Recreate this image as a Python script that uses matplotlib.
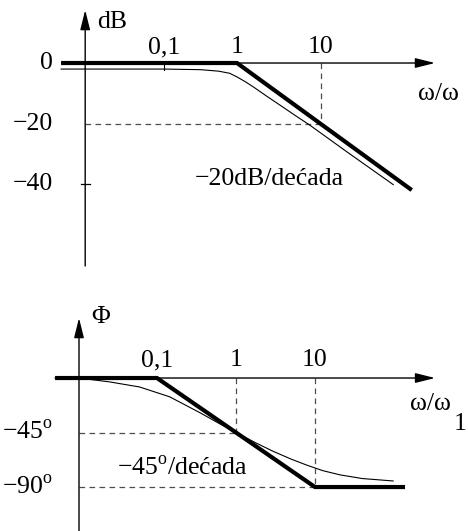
import numpy as np
import matplotlib
matplotlib.use("Agg")
import matplotlib.pyplot as plt

plt.rcParams['font.family'] = ['Liberation Serif', 'DejaVu Serif']
plt.rcParams['mathtext.fontset'] = 'custom'
plt.rcParams['mathtext.rm'] = 'Liberation Serif'

# x values are decades of w/w1 (log10)
# magnitude (dB)
mag_asym_x = [-2.41, 0.0, 2.08]
mag_asym_db = [0, 0, -42]
mag_real_x = [-2.41, -1.0, -0.5, -0.25, -0.1, 0.0, 0.1, 0.2, 0.35, 0.5, 0.68, 0.87, 1.3, 1.86]
mag_real_db = [-2.0, -2.0, -2.2, -2.7, -3.4, -4.6, -6.2, -8.0, -10.9, -13.7, -17.1, -20.6, -29.2, -40.2]
mag_xticks = [-1, 0, 1]
mag_yticks = [0, -20, -40]
mag_ylabels = ['0', '\u221220', '\u221240']

# phase (degrees)
ph_asym_x = [-2.29, -1, 1, 2.14]
ph_asym_deg = [0, 0, -90, -90]
ph_real_x = [-1.99, -1.6, -1.22, -0.84, -0.46, -0.2, 0.0, 0.25, 0.47, 0.7, 0.9, 1.1, 1.32, 1.6, 1.99]
ph_real_deg = [0, -3.2, -7.4, -15.5, -28.5, -38, -45, -53.5, -60.5, -67, -72, -76.5, -80, -83, -85]
ph_xticks = [-1, 0, 1]
ph_yticks = [-45, -90]
ph_ylabels = ['\u221245$^{\\mathrm{o}}$', '\u221290$^{\\mathrm{o}}$']

xtick_labels = ['0,1', '1', '10']

FS = 18.5
thick = dict(color='k', lw=3.0, solid_joinstyle='miter', solid_capstyle='butt')
thin = dict(color='k', lw=0.8)
dash = dict(color='0.3', lw=0.9, ls=(0, (4.5, 3.5)))
arrow = dict(arrowstyle='-|>,head_length=0.4,head_width=0.1', mutation_scale=30,
             lw=1.0, color='k', shrinkA=0, shrinkB=0)

fig = plt.figure(figsize=(4.68, 5.31), dpi=100)

# ---------- magnitude ----------
ax1 = fig.add_axes([0, 265 / 531, 1, 266 / 531])
ax1.set_axis_off()
k = 73 / 84  # decades below 1 are drawn a bit narrower in the original


def fwd(x):
    x = np.asarray(x, dtype=float)
    return np.where(x < 0, x * k, x)


def inv(u):
    u = np.asarray(u, dtype=float)
    return np.where(u < 0, u / k, u)


ax1.set_xscale('function', functions=(fwd, inv))
ax1.set_xlim(-3.247, 2.75)
ax1.set_ylim(-67.1, 20.83)

vx1 = -2.08
ax1.annotate('', xy=(vx1, 17.5), xytext=(vx1, -67.1), arrowprops=arrow)
ax1.annotate('', xy=(2.357, 0), xytext=(-2.40, 0), arrowprops=arrow)

ax1.plot([1, 1], [0, -20], **dash)
ax1.plot([vx1, 1], [-20, -20], **dash)
ax1.plot([-1, -1], [0, -2.3], color='k', lw=0.8)
ax1.plot([-2.137, -2.014], [-40, -40], color='k', lw=0.9)

ax1.plot(mag_real_x, mag_real_db, **thin)
ax1.plot(mag_asym_x, mag_asym_db, **thick)

for x, lab in zip(mag_xticks, xtick_labels):
    ax1.text(x, 3.3, lab, ha='center', va='baseline', fontsize=FS)
for y, lab in zip(mag_yticks, mag_ylabels):
    ax1.text(-2.52, y, lab, ha='right', va='center', fontsize=FS)
ax1.text(-1.918, 11.6, 'dB', ha='left', va='baseline', fontsize=FS)
ax1.text(2.15, -12.2, '\u03c9/\u03c9', ha='left', va='baseline', fontsize=FS)
ax1.text(-0.575, -40.3, '\u221220dB/de\u0107ada', ha='left', va='baseline', fontsize=FS)

# ---------- phase ----------
ax2 = fig.add_axes([0, 0, 1, 266 / 531])
ax2.set_axis_off()
ax2.set_xlim(-2.987, 2.937)
ax2.set_ylim(-126.3, 93.3)

vx2 = -1.987
ax2.annotate('', xy=(vx2, 49.5), xytext=(vx2, -126.3), arrowprops=arrow)
ax2.annotate('', xy=(2.52, 0), xytext=(-2.29, 0), arrowprops=arrow)

ax2.plot([0, 0], [0, -45], **dash)
ax2.plot([vx2, 0], [-45, -45], **dash)
ax2.plot([1, 1], [0, -90], **dash)
ax2.plot([vx2, 1], [-90, -90], **dash)

ax2.plot(ph_real_x, ph_real_deg, **thin)
ax2.plot(ph_asym_x, ph_asym_deg, **thick)

for x, lab in zip(ph_xticks, xtick_labels):
    ax2.text(x, 9.9, lab, ha='center', va='baseline', fontsize=FS)
for y, lab in zip(ph_yticks, ph_ylabels):
    ax2.text(-2.32, y, lab, ha='right', va='center', fontsize=FS)
ax2.text(-1.709, 50.4, '\u03a6', ha='center', va='center', fontsize=FS)
ax2.text(2.20, -26.4, '\u03c9/\u03c9', ha='left', va='baseline', fontsize=FS)
ax2.text(2.76, -42.9, '1', ha='left', va='baseline', fontsize=FS)
ax2.text(-1.506, -80.1, '\u221245$^{\\mathrm{o}}$/de\u0107ada', ha='left', va='baseline', fontsize=FS)

fig.savefig('out.png', dpi=100)
